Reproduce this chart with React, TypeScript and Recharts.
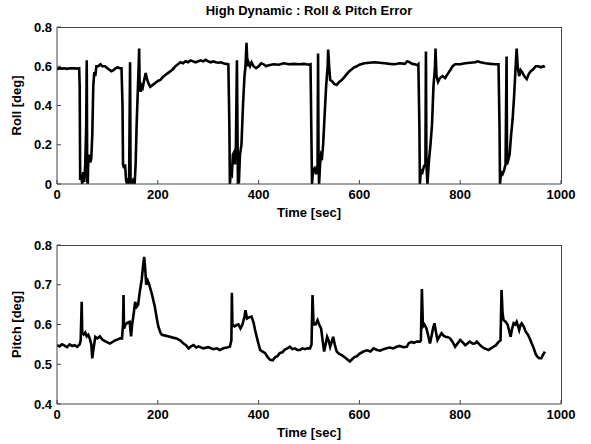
import React from 'react';
import { LineChart, Line, XAxis, YAxis } from 'recharts';

const rollTime = [0,5,10,15,20,25,30,35,40,44,45,46,48,50,52,54,56,58,59,60,61,62,64,66,68,70,72,74,76,78,82,86,90,95,100,105,108,112,116,120,124,128,130,131,133,135,137,139,141,143,145,146,148,150,152,154,156,158,160,162,163,164,166,168,170,173,176,179,182,185,190,195,200,205,210,215,220,225,230,235,240,245,250,255,260,265,270,275,280,285,290,295,300,305,310,315,320,325,330,335,340,342,343,345,347,349,351,353,355,357,358,359,361,363,366,369,372,374,376,378,380,383,386,390,395,400,405,410,415,420,430,440,450,460,470,480,490,500,503,505,506,508,511,514,517,518,519,520,522,524,526,528,531,534,537,538,540,542,545,550,555,560,565,570,575,580,585,590,595,600,610,620,630,640,650,660,670,680,690,695,700,705,710,715,717,719,720,722,725,728,731,732,733,735,738,741,744,747,750,751,753,756,760,765,770,775,780,785,790,800,810,820,830,835,840,850,860,870,876,878,879,881,884,887,890,892,893,895,898,901,904,907,910,912,914,917,920,923,927,932,936,940,945,950,955,960,965,968];
const rollValue = [0.585,0.59,0.588,0.59,0.587,0.59,0.589,0.59,0.588,0.59,0.5,0.02,0.05,0.0,0.06,0.01,0.1,0.3,0.63,0.02,0.0,0.12,0.15,0.11,0.13,0.25,0.5,0.57,0.55,0.6,0.6,0.61,0.6,0.6,0.59,0.58,0.575,0.58,0.59,0.595,0.59,0.59,0.4,0.1,0.08,0.1,0.02,0.0,0.03,0.0,0.62,0.0,0.02,0.0,0.03,0.0,0.1,0.3,0.45,0.6,0.69,0.5,0.47,0.5,0.49,0.53,0.565,0.53,0.51,0.495,0.505,0.515,0.525,0.53,0.545,0.555,0.565,0.575,0.585,0.6,0.61,0.62,0.615,0.625,0.62,0.63,0.625,0.62,0.625,0.63,0.625,0.633,0.625,0.62,0.625,0.62,0.618,0.62,0.615,0.612,0.61,0.3,0.0,0.06,0.05,0.15,0.16,0.1,0.2,0.63,0.3,0.0,0.01,0.15,0.2,0.4,0.55,0.6,0.72,0.6,0.62,0.6,0.62,0.6,0.59,0.6,0.615,0.61,0.6,0.605,0.61,0.608,0.615,0.61,0.612,0.61,0.612,0.608,0.61,0.2,0.0,0.07,0.08,0.05,0.1,0.665,0.1,0.0,0.1,0.15,0.14,0.2,0.35,0.5,0.6,0.685,0.6,0.53,0.525,0.51,0.505,0.52,0.53,0.545,0.56,0.575,0.585,0.595,0.6,0.608,0.615,0.618,0.62,0.618,0.615,0.612,0.61,0.615,0.612,0.625,0.62,0.612,0.61,0.605,0.61,0.3,0.0,0.07,0.06,0.09,0.1,0.675,0.1,0.0,0.12,0.2,0.3,0.5,0.6,0.69,0.55,0.52,0.54,0.55,0.54,0.56,0.58,0.6,0.61,0.61,0.615,0.618,0.62,0.625,0.62,0.615,0.612,0.61,0.61,0.3,0.0,0.06,0.05,0.07,0.1,0.65,0.1,0.12,0.15,0.25,0.33,0.45,0.6,0.69,0.6,0.55,0.58,0.57,0.55,0.535,0.56,0.575,0.585,0.6,0.6,0.595,0.6,0.595];

const pitchTime = [0,5,10,15,20,25,30,35,40,45,47,49,50,53,56,59,62,65,68,70,72,76,80,85,90,95,100,105,110,115,120,125,129,131,132,133,136,140,144,147,149,152,155,158,161,164,168,171,173,175,177,180,183,188,194,198,201,205,208,215,224,230,237,244,251,256,261,266,271,276,281,290,300,310,317,323,330,337,343,346,347,348,352,356,360,364,368,372,374,377,381,386,390,393,398,403,408,413,418,423,428,433,437,442,447,452,457,462,467,472,477,482,487,492,497,502,505,507,509,513,517,520,524,527,530,533,536,539,542,545,548,551,555,560,565,570,575,581,585,590,595,600,608,615,622,628,635,641,648,654,660,667,674,680,687,694,698,703,708,714,720,722,724,726,729,733,736,740,743,746,749,752,755,759,763,767,771,776,780,785,790,795,800,805,810,815,819,825,830,833,838,843,848,852,856,861,866,871,876,880,882,884,886,890,894,897,900,903,906,909,912,915,917,920,922,926,930,934,938,942,946,950,953,957,961,964,968];
const pitchValue = [0.548,0.545,0.55,0.547,0.543,0.55,0.546,0.548,0.544,0.55,0.56,0.657,0.58,0.575,0.58,0.57,0.574,0.565,0.55,0.515,0.535,0.569,0.565,0.57,0.562,0.558,0.555,0.552,0.556,0.56,0.562,0.565,0.565,0.6,0.674,0.59,0.6,0.605,0.607,0.57,0.6,0.625,0.657,0.645,0.65,0.68,0.712,0.75,0.77,0.74,0.7,0.71,0.7,0.678,0.645,0.615,0.595,0.58,0.574,0.572,0.569,0.567,0.565,0.56,0.552,0.548,0.54,0.545,0.548,0.542,0.545,0.54,0.543,0.538,0.54,0.536,0.54,0.542,0.544,0.56,0.68,0.6,0.595,0.598,0.6,0.59,0.6,0.62,0.636,0.615,0.618,0.62,0.605,0.586,0.56,0.536,0.532,0.528,0.518,0.511,0.51,0.518,0.52,0.528,0.53,0.537,0.54,0.544,0.538,0.54,0.536,0.536,0.54,0.538,0.54,0.54,0.55,0.674,0.6,0.6,0.611,0.6,0.59,0.56,0.532,0.55,0.569,0.56,0.544,0.556,0.569,0.55,0.532,0.526,0.523,0.518,0.513,0.507,0.512,0.518,0.52,0.526,0.532,0.535,0.532,0.54,0.536,0.534,0.538,0.54,0.542,0.54,0.544,0.546,0.543,0.544,0.553,0.556,0.554,0.557,0.557,0.56,0.689,0.595,0.6,0.59,0.575,0.552,0.57,0.59,0.603,0.58,0.561,0.57,0.578,0.572,0.569,0.568,0.565,0.556,0.544,0.553,0.561,0.555,0.548,0.553,0.557,0.552,0.553,0.557,0.55,0.544,0.54,0.538,0.536,0.54,0.544,0.548,0.556,0.56,0.687,0.63,0.611,0.607,0.6,0.585,0.569,0.59,0.603,0.6,0.607,0.595,0.586,0.6,0.603,0.595,0.582,0.575,0.565,0.552,0.54,0.525,0.519,0.515,0.515,0.523,0.532];

const timeTicks = [0, 200, 400, 600, 800, 1000];
const rollTicks = [0, 0.2, 0.4, 0.6, 0.8];
const pitchTicks = [0.4, 0.5, 0.6, 0.7, 0.8];

const rollData = rollTime.map((t, i) => ({ t, v: rollValue[i] }));
const pitchData = pitchTime.map((t, i) => ({ t, v: pitchValue[i] }));

const FONT = '"Liberation Sans", Arial, Helvetica, sans-serif';
const tickStyle = { fill: '#000', fontSize: 13, fontWeight: 'bold', fontFamily: FONT };
const labelStyle = { fill: '#000', fontSize: 13, fontWeight: 'bold', fontFamily: FONT };
const AX = '#444';
const W = 591;
const H = 222;
const ML = 57;
const MR = 30;

function Panel(props: { data: any[]; yTicks: number[]; yDomain: [number, number]; yLabel: string; top: number; marginTop: number; xHeight: number; labelOffset: number; }) {
  const { data, yTicks, yDomain, yLabel, top, marginTop, xHeight, labelOffset } = props;
  return (
    <div style={{ position: 'absolute', left: 0, top, width: W, height: H }}>
      <LineChart width={W} height={H} data={data} margin={{ top: marginTop, right: MR, left: 0, bottom: 0 }}>
        <XAxis dataKey="t" type="number" domain={[0, 1000]} ticks={timeTicks} allowDataOverflow
          height={xHeight} tickSize={-4} tickMargin={10} stroke={AX} tick={tickStyle} interval={0}
          label={{ value: 'Time [sec]', position: 'insideBottom', offset: labelOffset, style: labelStyle }} />
        <YAxis type="number" domain={yDomain} ticks={yTicks} allowDataOverflow width={ML} tickSize={-4} tickMargin={9}
          stroke={AX} tick={tickStyle} interval={0} tickFormatter={(v: number) => String(v)}
          label={{ value: yLabel, angle: -90, position: 'insideLeft', offset: 16, style: { ...labelStyle, textAnchor: 'middle' } }} />
        <Line type="linear" dataKey="v" stroke="#000" strokeWidth={2.6} dot={false} isAnimationActive={false} />
      </LineChart>
      <div style={{ position: 'absolute', left: ML, top: marginTop, width: W - ML - MR + 1, height: H - marginTop - xHeight, borderTop: `1px solid ${AX}`, borderRight: `1px solid ${AX}`, boxSizing: 'border-box', pointerEvents: 'none' }} />
    </div>
  );
}

export default function App() {
  return (
    <div style={{ position: 'absolute', left: 0, top: 0, width: W, height: 444, background: '#fff', overflow: 'hidden' }}>
      <div style={{ position: 'absolute', left: ML, width: W - ML - MR, top: 3, textAlign: 'center', fontFamily: FONT, fontWeight: 'bold', fontSize: 13, color: '#000' }}>
        High Dynamic : Roll &amp; Pitch Error
      </div>
      <Panel data={rollData} yTicks={rollTicks} yDomain={[0, 0.8]} yLabel="Roll [deg]" top={0} marginTop={27} xHeight={38} labelOffset={5} />
      <Panel data={pitchData} yTicks={pitchTicks} yDomain={[0.4, 0.8]} yLabel="Pitch [deg]" top={222} marginTop={23} xHeight={40} labelOffset={7} />
    </div>
  );
}
